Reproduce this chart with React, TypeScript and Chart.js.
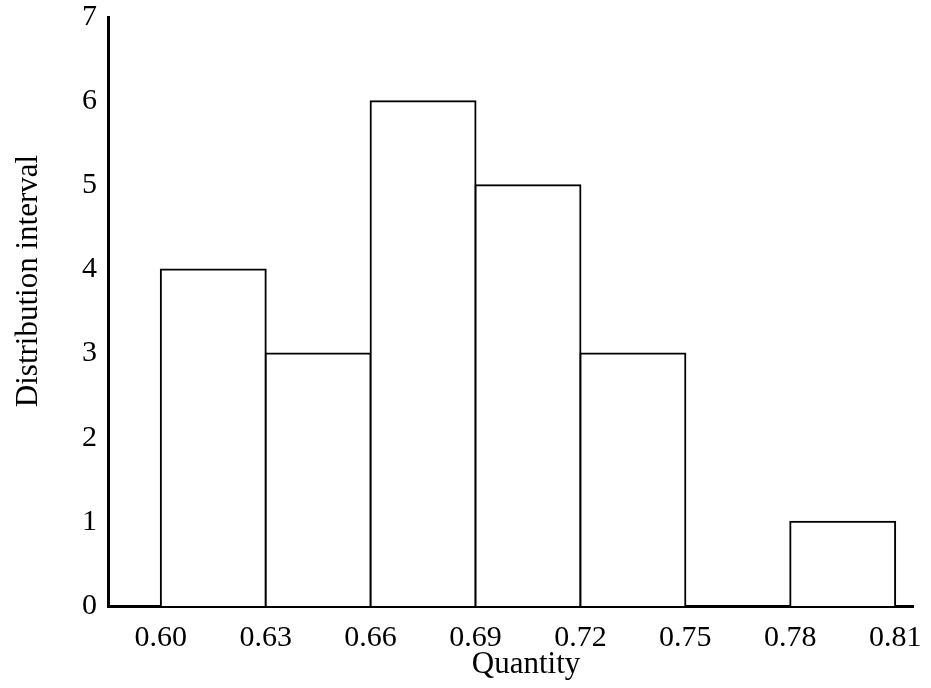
import React, { useEffect, useRef } from "react";
import { Chart, registerables } from "chart.js";

Chart.register(...registerables);

// Data
const binEdges = [0.6, 0.63, 0.66, 0.69, 0.72, 0.75, 0.78, 0.81];
const counts = [4, 3, 6, 5, 3, 0, 1];
const yTicks = [0, 1, 2, 3, 4, 5, 6, 7];
const xTitle = "Quantity";
const yTitle = "Distribution interval";

const FONT = '"Liberation Serif", "Times New Roman", serif';

export default function App() {
  const ref = useRef<HTMLCanvasElement | null>(null);

  useEffect(() => {
    if (!ref.current) return;
    const points = counts.map((c, i) => ({ x: (binEdges[i] + binEdges[i + 1]) / 2, y: c }));

    const titlePlugin = {
      id: "axisTitles",
      afterDraw(chart: any) {
        const ctx = chart.ctx;
        ctx.save();
        ctx.fillStyle = "#000";
        ctx.font = `31px ${FONT}`;
        ctx.textAlign = "center";
        ctx.textBaseline = "alphabetic";
        ctx.fillText(xTitle, 526, 673);
        ctx.translate(37, 281);
        ctx.rotate(-Math.PI / 2);
        ctx.fillText(yTitle, 0, 0);
        ctx.restore();
      },
    };

    const chart = new Chart(ref.current, {
      type: "bar",
      data: {
        datasets: [
          {
            data: points as any,
            backgroundColor: "#ffffff",
            borderColor: "#000000",
            borderWidth: { top: 2, left: 2, right: 2, bottom: 0 },
            borderSkipped: "start",
            barPercentage: 1,
            categoryPercentage: 1,
            inflateAmount: 1,
          } as any,
        ],
      },
      plugins: [titlePlugin],
      options: {
        animation: false,
        responsive: true,
        maintainAspectRatio: false,
        layout: { padding: { top: 17, right: 18, left: 0, bottom: 0 } },
        plugins: { legend: { display: false }, tooltip: { enabled: false } },
        scales: {
          x: {
            type: "linear",
            offset: false,
            min: 0.5849,
            max: 0.8151,
            grid: { display: false, drawTicks: false, offset: false },
            border: { display: true, color: "#000", width: 3 },
            afterBuildTicks: (s: any) => {
              s.ticks = binEdges.map((v) => ({ value: v }));
            },
            afterFit: (s: any) => {
              s.height = 82;
              s.paddingLeft = 0;
              s.paddingRight = 0;
            },
            ticks: {
              autoSkip: false,
              maxRotation: 0,
              color: "#000",
              padding: 14,
              font: { family: FONT, size: 30 },
              callback: (v: any) => Number(v).toFixed(2),
            },
          },
          y: {
            min: 0,
            max: 7,
            grid: { display: false, drawTicks: false },
            border: { display: true, color: "#000", width: 3 },
            afterBuildTicks: (s: any) => {
              s.ticks = yTicks.map((v) => ({ value: v }));
            },
            afterFit: (s: any) => {
              s.width = 108;
              s.paddingTop = 0;
              s.paddingBottom = 0;
            },
            ticks: {
              color: "#000",
              padding: 11,
              font: { family: FONT, size: 30 },
            },
          },
        },
      } as any,
    });
    return () => chart.destroy();
  }, []);

  return (
    <div style={{ position: "absolute", left: 0, top: 0, width: 931, height: 688, background: "#fff" }}>
      <canvas ref={ref} />
    </div>
  );
}
